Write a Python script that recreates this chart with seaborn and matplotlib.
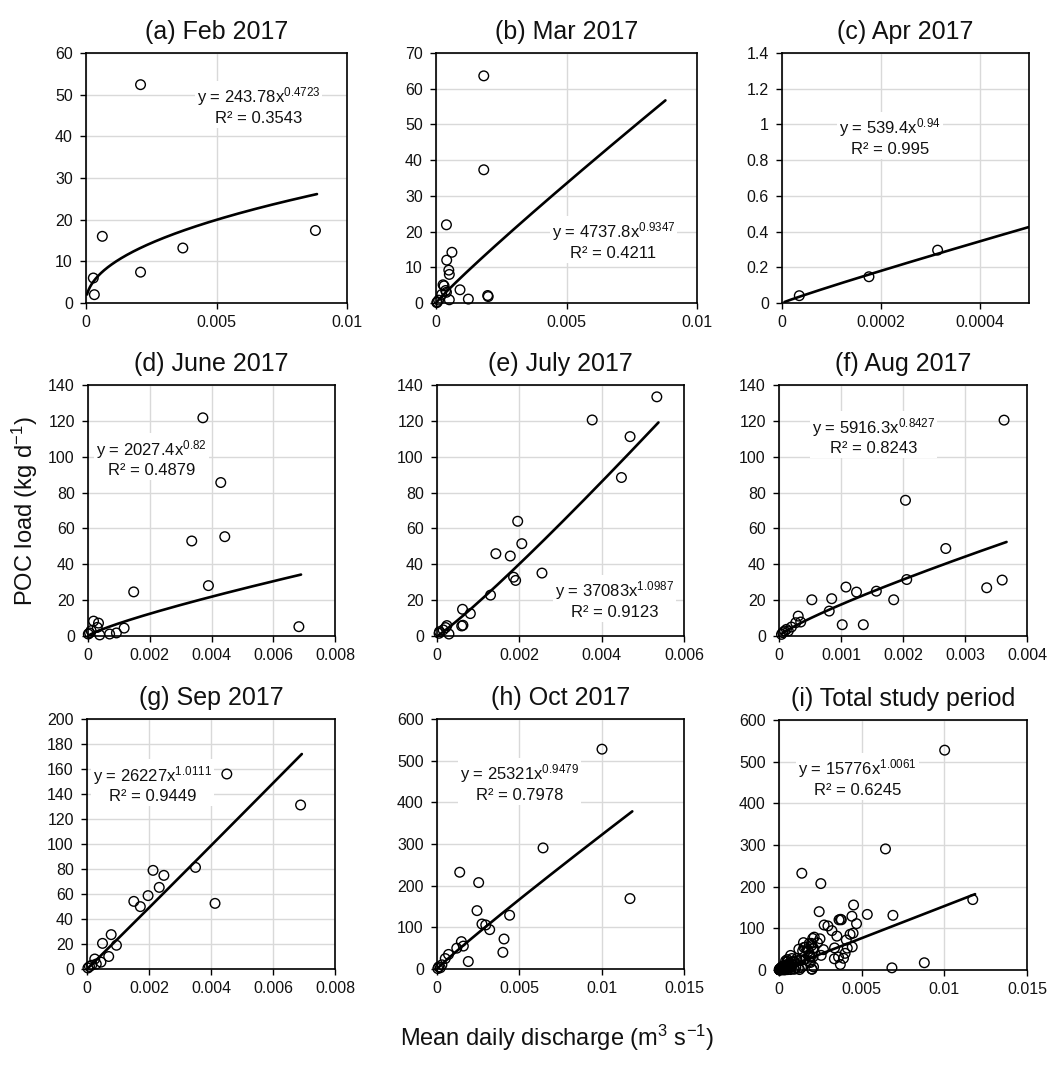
import numpy as np
import matplotlib
matplotlib.use("Agg")
import matplotlib.pyplot as plt
from matplotlib.ticker import FuncFormatter
import seaborn as sns

# ---- data: discharge (m3/s) and POC load (kg/d) ----
feb_q = [0.00209, 0.000625, 0.00028, 0.00032, 0.00209, 0.00371, 0.00879]
feb_poc = [52.4, 16.0, 6.0, 2.0, 7.4, 13.2, 17.4]

mar_q = [0.00183, 0.00183, 0.00040, 0.00061, 0.00041, 0.00049, 0.00051, 0.00027,
         0.00031, 0.00037, 0.00040, 0.00092, 0.00051, 0.00124, 0.00198, 0.00200,
         0.00022, 0.00010, 0.00005, 0.00003]
mar_poc = [63.6, 37.3, 21.9, 14.2, 12.0, 9.2, 8.0, 5.1, 4.8, 3.5, 3.0, 3.7, 0.9,
           1.1, 2.1, 1.8, 2.4, 0.8, 0.3, 0.1]

apr_q = [0.000035, 0.000176, 0.000315]
apr_poc = [0.041, 0.147, 0.296]

jun_q = [0.00372, 0.00430, 0.00443, 0.00336, 0.00390, 0.00148, 0.00683, 0.00018,
         0.00034, 0.00030, 0.00117, 0.00092, 0.00070, 0.00038, 0.00005, 0.00001,
         0.00010]
jun_poc = [121.7, 85.6, 55.4, 53.0, 28.1, 24.6, 5.2, 8.3, 7.2, 4.8, 4.4, 1.7, 1.1,
           0.6, 1.7, 1.1, 3.0]

jul_q = [0.00534, 0.00377, 0.00469, 0.00448, 0.00196, 0.00206, 0.00143, 0.00178,
         0.00186, 0.00191, 0.00255, 0.00130, 0.00062, 0.00081, 0.00060, 0.00063,
         0.00024, 0.00021, 0.00015, 0.00006, 0.00005, 0.00029]
jul_poc = [133.4, 120.5, 111.2, 88.4, 64.0, 51.5, 45.9, 44.6, 32.8, 31.0, 35.1,
           22.8, 14.9, 12.5, 5.6, 6.0, 5.8, 4.7, 3.4, 2.4, 1.5, 1.1]

aug_q = [0.00363, 0.00204, 0.00269, 0.00206, 0.00360, 0.00335, 0.00108, 0.00125,
         0.00157, 0.00185, 0.00053, 0.00085, 0.00081, 0.00102, 0.00136, 0.00031,
         0.00035, 0.00027, 0.00020, 0.00012, 0.00009, 0.00006, 0.00004, 0.00015]
aug_poc = [120.4, 75.7, 48.8, 31.5, 31.2, 26.9, 27.3, 24.5, 25.0, 20.2, 20.2, 20.8,
           13.9, 6.3, 6.3, 11.1, 7.8, 7.4, 5.0, 3.7, 2.8, 1.9, 0.9, 2.8]

sep_q = [0.00451, 0.00689, 0.00350, 0.00213, 0.00248, 0.00233, 0.00197, 0.00151,
         0.00172, 0.00413, 0.00078, 0.00050, 0.00095, 0.00070, 0.00025, 0.00045,
         0.00030, 0.00015, 0.00008, 0.00003]
sep_poc = [156.0, 131.2, 81.3, 78.9, 74.9, 65.3, 58.7, 54.1, 49.9, 52.5, 27.5, 20.5,
           19.0, 10.0, 8.0, 5.5, 4.0, 3.0, 2.0, 0.8]

oct_q = [0.01002, 0.00644, 0.00138, 0.00253, 0.01172, 0.00243, 0.00441, 0.00273,
         0.00296, 0.00320, 0.00407, 0.00148, 0.00160, 0.00120, 0.00400, 0.00070,
         0.00050, 0.00190, 0.00030, 0.00010, 0.00020, 0.00005]
oct_poc = [527.6, 290.6, 232.2, 207.4, 169.0, 140.1, 129.0, 108.0, 105.7, 94.5,
           72.0, 65.7, 55.0, 50.0, 40.0, 35.0, 25.0, 18.0, 10.0, 5.0, 3.0, 1.0]

# total study period = all months together
all_q = feb_q + mar_q + apr_q + jun_q + jul_q + aug_q + sep_q + oct_q
all_poc = feb_poc + mar_poc + apr_poc + jun_poc + jul_poc + aug_poc + sep_poc + oct_poc

titles = ["(a) Feb 2017", "(b) Mar 2017", "(c) Apr 2017", "(d) June 2017",
          "(e) July 2017", "(f) Aug 2017", "(g) Sep 2017", "(h) Oct 2017",
          "(i) Total study period"]
q_sets = [feb_q, mar_q, apr_q, jun_q, jul_q, aug_q, sep_q, oct_q, all_q]
poc_sets = [feb_poc, mar_poc, apr_poc, jun_poc, jul_poc, aug_poc, sep_poc, oct_poc, all_poc]

# power-law trendlines y = a * x^b
coef_a = [243.78, 4737.8, 539.4, 2027.4, 37083, 5916.3, 26227, 25321, 15776]
coef_b = [0.4723, 0.9347, 0.94, 0.82, 1.0987, 0.8427, 1.0111, 0.9479, 1.0061]
r2 = [0.3543, 0.4211, 0.995, 0.4879, 0.9123, 0.8243, 0.9449, 0.7978, 0.6245]
fit_lo = [0.00004, 0.00001, 0.000005, 0.00001, 0.00005, 0.00004, 0.00003, 0.00005, 0.00001]
fit_hi = [0.00885, 0.00879, 0.0005, 0.0069, 0.00538, 0.00367, 0.00693, 0.01186, 0.01186]

# axis ranges
x_max = [0.01, 0.01, 0.0005, 0.008, 0.006, 0.004, 0.008, 0.015, 0.015]
x_step = [0.005, 0.005, 0.0002, 0.002, 0.002, 0.001, 0.002, 0.005, 0.005]
y_max = [60, 70, 1.4, 140, 140, 140, 200, 600, 600]
y_step = [10, 10, 0.2, 20, 20, 20, 20, 100, 100]

# ---- layout (pixels: left, top, right, bottom) ----
W, H = 1051, 1066
boxes = [(86, 53, 347, 303), (436, 53, 697, 303), (782, 53, 1029, 303),
         (88, 385, 335, 636), (437, 385, 684, 636), (779, 385, 1027, 636),
         (87, 719, 335, 969), (437, 719, 684, 969), (779, 720, 1027, 970)]
eq_pos = [(0.66, 0.79), (0.68, 0.25), (0.437, 0.665), (0.257, 0.71), (0.72, 0.146),
          (0.38, 0.797), (0.266, 0.74), (0.335, 0.746), (0.317, 0.77)]

sns.set_theme(style="whitegrid")
plt.rcParams["font.family"] = ["Liberation Sans", "DejaVu Sans"]
plt.rcParams["mathtext.default"] = "regular"

fig = plt.figure(figsize=(W / 100, H / 100), dpi=100)
fmt = FuncFormatter(lambda v, p: f"{round(v, 8):g}")

for k in range(9):
    l, t, r, b = boxes[k]
    ax = fig.add_axes([l / W, 1 - b / H, (r - l) / W, (b - t) / H])
    ax.set_facecolor("white")

    sns.scatterplot(x=q_sets[k], y=poc_sets[k], ax=ax, marker="o", s=48,
                    facecolor="none", edgecolor="black", linewidth=1.0,
                    clip_on=False, zorder=3)

    xs = np.geomspace(fit_lo[k], fit_hi[k], 300)
    ys = coef_a[k] * xs ** coef_b[k]
    sns.lineplot(x=xs, y=ys, ax=ax, color="black", linewidth=1.9,
                 estimator=None, sort=False, zorder=4)

    ax.set_xlim(0, x_max[k])
    ax.set_ylim(0, y_max[k])
    ax.set_xticks(np.arange(0, x_max[k] + x_step[k] / 2, x_step[k]))
    ax.set_yticks(np.arange(0, y_max[k] + y_step[k] / 2, y_step[k]))
    ax.xaxis.set_major_formatter(fmt)
    ax.yaxis.set_major_formatter(fmt)
    ax.grid(True, color="#d9d9d9", linewidth=1.0)
    for s in ax.spines.values():
        s.set_color("black")
        s.set_linewidth(1.2)
    ax.tick_params(axis="both", which="major", direction="out", length=4,
                   width=1.0, color="black", labelsize=11.5, labelcolor="#111111",
                   bottom=True, left=True)
    ax.tick_params(axis="y", pad=5.5)
    ax.tick_params(axis="x", pad=4.5)
    ax.set_xlabel("")
    ax.set_ylabel("")
    ax.set_title(titles[k], fontsize=18, pad=10, color="#111111")

    eq = f"y = {coef_a[k]:g}x$^{{{coef_b[k]:g}}}$\nR² = {r2[k]:g}"
    ax.text(eq_pos[k][0], eq_pos[k][1], eq, transform=ax.transAxes,
            ha="center", va="center", multialignment="center", fontsize=12,
            color="#111111", zorder=6,
            bbox=dict(facecolor="white", edgecolor="none", pad=1.5))

fig.text(25 / W, 1 - 511 / H, "POC load (kg d$^{-1}$)", rotation=90,
         ha="center", va="center", fontsize=17, color="#111111")
fig.text(557 / W, 1 - 1038 / H, "Mean daily discharge (m$^{3}$ s$^{-1}$)",
         ha="center", va="center", fontsize=17, color="#111111")

fig.savefig("out.png", dpi=100)
